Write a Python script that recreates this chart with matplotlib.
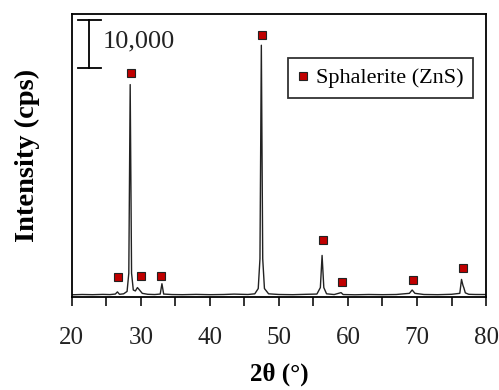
import numpy as np
import matplotlib
matplotlib.use("Agg")
import matplotlib.pyplot as plt
from matplotlib.ticker import MultipleLocator

plt.rcParams['font.family'] = ['Liberation Serif', 'DejaVu Serif']

# XRD trace (2theta in degrees, intensity in cps)
two_theta = [20.0, 21.5, 23.0, 24.5, 25.5, 26.3, 26.6, 26.9, 27.5, 28.0,
             28.25, 28.45, 28.65, 28.9, 29.2, 29.5, 29.8, 30.2, 31.0, 32.0,
             32.8, 33.05, 33.3, 34.5, 36.0, 38.0, 40.0, 42.0, 43.5, 44.5,
             45.5, 46.5, 47.0, 47.25, 47.45, 47.65, 47.9, 48.5, 50.0, 52.0,
             54.0, 55.5, 56.0, 56.25, 56.5, 56.9, 58.0, 59.0, 59.3, 61.0,
             63.0, 65.0, 67.0, 68.9, 69.3, 69.7, 71.0, 73.0, 75.0, 76.2,
             76.45, 76.65, 76.8, 77.0, 77.5, 78.5, 80.0]
intensity = [500, 560, 520, 580, 540, 650, 1100, 600, 700, 1200,
             5000, 44300, 5000, 1500, 1300, 2000, 1500, 800, 600, 550,
             650, 2800, 650, 550, 520, 580, 520, 560, 640, 600,
             560, 700, 1800, 8000, 52500, 8000, 1800, 700, 560, 520,
             600, 650, 2000, 8700, 2000, 700, 550, 950, 550, 500,
             560, 520, 560, 800, 1500, 800, 560, 520, 600, 800,
             3700, 2500, 1900, 900, 600, 560, 550]

# sphalerite (ZnS) peak markers
zns_x = [26.7, 28.55, 30.0, 32.9, 47.6, 56.4, 59.2, 69.4, 76.6]
zns_y = [4300, 46700, 4500, 4500, 54600, 11900, 3200, 3500, 6000]

fig, ax = plt.subplots(figsize=(4.99, 3.90), dpi=100)
fig.subplots_adjust(left=0.144, right=0.974, top=0.964, bottom=0.238)

ax.plot(two_theta, intensity, color='#222222', lw=1.0)
ax.plot(zns_x, zns_y, ls='none', marker='s', ms=6, mfc='#C00000',
        mec='#222222', mew=0.8, label='Sphalerite (ZnS)')

# 10,000 cps scale bar
bar_x = 22.5
ax.plot([bar_x, bar_x], [47700, 57700], color='black', lw=1.3)
ax.plot([bar_x - 1.65, bar_x + 1.65], [47700, 47700], color='black', lw=1.3)
ax.plot([bar_x - 1.65, bar_x + 1.65], [57700, 57700], color='black', lw=1.3)
ax.text(24.4, 53300, '10,000', fontsize=19, va='center', ha='left', color='#222222')

ax.set_xlim(20, 80)
ax.set_ylim(0, 59000)
ax.xaxis.set_major_locator(MultipleLocator(10))
ax.xaxis.set_minor_locator(MultipleLocator(5))
ax.tick_params(axis='x', which='both', direction='out', length=6.5, width=1.3,
               labelsize=18, pad=15, colors='#222222')
ax.set_yticks([])
for s in ax.spines.values():
    s.set_linewidth(1.3)

ax.set_xlabel('2θ (°)', fontsize=18, fontweight='bold', labelpad=10)
ax.set_ylabel('Intensity (cps)', fontsize=20.5, fontweight='bold', labelpad=23)

leg = ax.legend(loc='upper right', bbox_to_anchor=(0.969, 0.845), fontsize=16,
                frameon=True, fancybox=False, edgecolor='black',
                handlelength=0.5, handletextpad=0.3, borderpad=0.45,
                borderaxespad=0)
leg.get_frame().set_linewidth(1.3)

fig.savefig('out.png', dpi=100)
